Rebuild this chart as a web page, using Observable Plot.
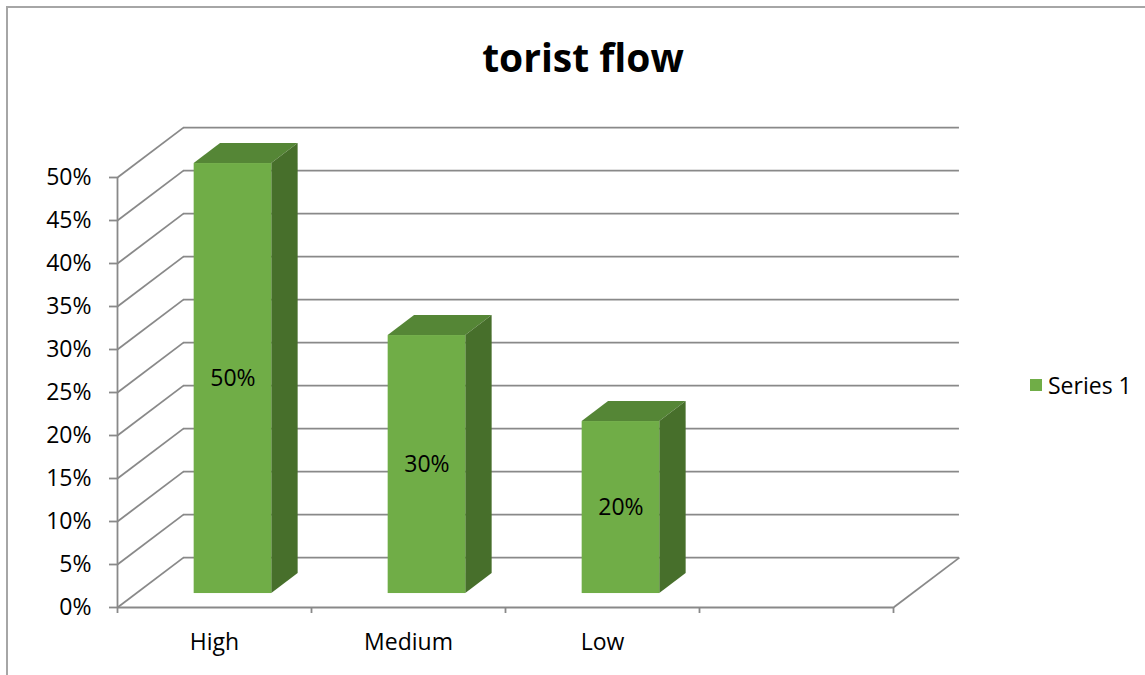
<!DOCTYPE html>
<html><head><meta charset="utf-8">
<script src="https://cdn.jsdelivr.net/npm/d3@7"></script>
<script src="https://cdn.jsdelivr.net/npm/@observablehq/plot@0.6"></script>
<style>
body{margin:0;background:#fff;font-family:"Open Sans","Liberation Sans",sans-serif;color:#000;}
#wrap{position:relative;width:1145px;height:675px;overflow:hidden;}
#frame{position:absolute;left:6px;top:6px;width:1300px;height:800px;border-left:2px solid #a6a6a6;border-top:2px solid #a6a6a6;}
#chart{position:absolute;left:0;top:0;}
#title{position:absolute;left:0;width:1166px;top:31px;text-align:center;font-weight:bold;font-size:39px;line-height:52px;}
#legend{position:absolute;left:1030px;top:369px;font-size:23px;line-height:32px;display:flex;align-items:center;}
#legend span.sw{display:inline-block;width:12px;height:12px;background:#70ad47;margin-right:6px;}
</style></head>
<body>
<div id="wrap">
  <div id="frame"></div>
  <div id="chart"></div>
  <div id="title">torist flow</div>
  <div id="legend"><span class="sw"></span><span>Series 1</span></div>
</div>
<script>
// ---- data ----
const categories = ["High", "Medium", "Low"];
const values = [0.50, 0.30, 0.20];
const valueLabels = ["50%", "30%", "20%"];
const yTicks = [0, 0.05, 0.10, 0.15, 0.20, 0.25, 0.30, 0.35, 0.40, 0.45, 0.50];
const seriesName = "Series 1";

// ---- 3D projection settings (style) ----
const SLOTS = 4;        // category slots on the floor
const DX = 0.34;        // depth offset in category units
const DY = 0.058;       // depth offset in value units
const D0 = 0.28, D1 = 0.68; // bar depth range
const BW = 0.40;        // bar width in category units
const grid = "#898989";
const cFront = "#70ad47", cSide = "#476f2b", cTop = "#558636";
const font = "'Open Sans', 'Liberation Sans', sans-serif";

const bars = categories.map((c, i) => ({i, cat: c, v: values[i], label: valueLabels[i]}));
const sides = bars.flatMap(d => [D0, D1].map(k => ({i: d.i, x: d.i + 0.5 + BW/2 + k*DX, y1: k*DY, y2: d.v + k*DY})));
const tops = bars.flatMap(d => [D0, D1].map(k => ({i: d.i, y: d.v + k*DY, x1: d.i + 0.5 - BW/2 + k*DX, x2: d.i + 0.5 + BW/2 + k*DX})));

const plot = Plot.plot({
  width: 1145, height: 675,
  marginLeft: 117, marginRight: 252, marginTop: 177, marginBottom: 68,
  x: {type: "linear", domain: [0, SLOTS]},
  y: {type: "linear", domain: [0, 0.5]},
  style: {fontSize: "23px", fontFamily: font, color: "#000", background: "transparent", overflow: "visible"},
  marks: [
    // back wall gridlines
    Plot.ruleY(yTicks, {y: t => t + DY, x1: DX, x2: SLOTS + DX, stroke: grid, strokeWidth: 1.8}),
    // side wall diagonals
    Plot.link(yTicks, {x1: 0, y1: t => t, x2: DX, y2: t => t + DY, stroke: grid, strokeWidth: 1.8}),
    // floor front edge & right edge
    Plot.ruleY([0], {x1: 0, x2: SLOTS, stroke: grid, strokeWidth: 2.2}),
    Plot.link([0], {x1: SLOTS, y1: 0, x2: SLOTS + DX, y2: DY, stroke: grid, strokeWidth: 1.8}),
    // front vertical axis line
    Plot.ruleX([0], {y1: 0, y2: 0.5, stroke: grid, strokeWidth: 1.8}),
    Plot.axisY({ticks: yTicks, tickSize: 8, tickPadding: 18, tickFormat: d3.format(".0%"), stroke: grid, strokeWidth: 1.8, fontSize: 23, label: null}),
    Plot.axisX({ticks: d3.range(SLOTS + 1), tickSize: 6, tickFormat: () => "", stroke: grid, strokeWidth: 1.8, label: null}),
    // bars
    Plot.areaX(tops, {y: "y", x1: "x1", x2: "x2", z: "i", fill: cTop}),
    Plot.areaY(sides, {x: "x", y1: "y1", y2: "y2", z: "i", fill: cSide}),
    Plot.rect(bars, {x1: d => d.i + 0.5 - BW/2 + D0*DX, x2: d => d.i + 0.5 + BW/2 + D0*DX, y1: D0*DY, y2: d => d.v + D0*DY, fill: cFront}),
    Plot.text(bars, {x: d => d.i + 0.5 + D0*DX, y: d => d.v/2 + D0*DY, text: "label", fill: "#000", fontSize: 23}),
    // category labels
    Plot.text(bars, {x: d => d.i + 0.5, y: 0, dy: 35, text: "cat", fill: "#000", fontSize: 23})
  ]
});
document.getElementById("chart").appendChild(plot);
document.querySelector("#legend span:last-child").textContent = seriesName;
</script>
</body></html>
